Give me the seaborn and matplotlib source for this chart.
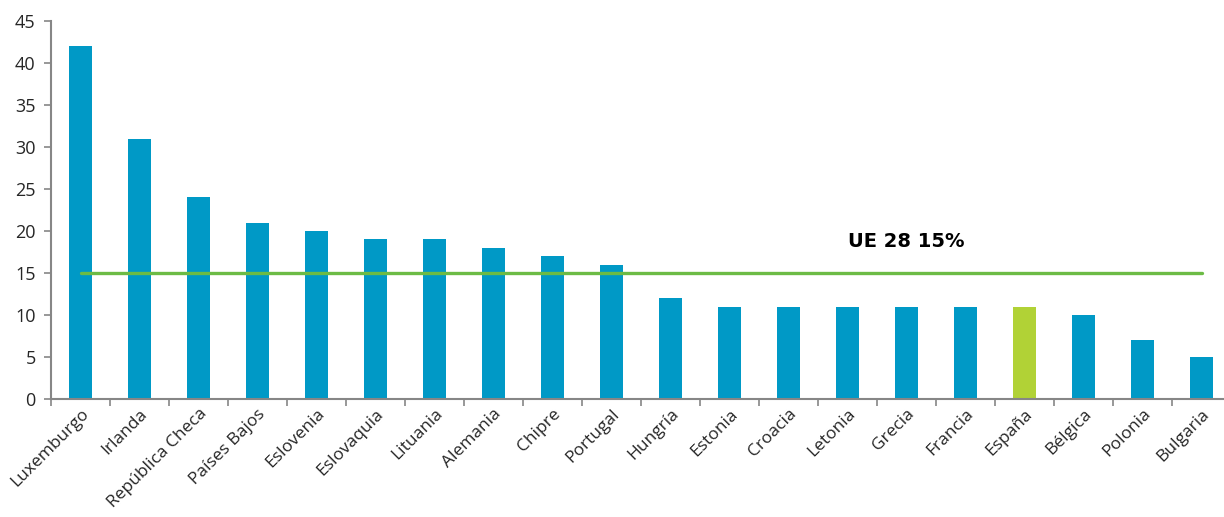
import matplotlib
matplotlib.use("Agg")
import matplotlib.pyplot as plt
import seaborn as sns
import pandas as pd
import numpy as np

# Data
paises = ["Luxemburgo", "Irlanda", "República Checa", "Países Bajos", "Eslovenia",
          "Eslovaquia", "Lituania", "Alemania", "Chipre", "Portugal", "Hungría",
          "Estonia", "Croacia", "Letonia", "Grecia", "Francia", "España", "Bélgica",
          "Polonia", "Bulgaria"]
valores = [42, 31, 24, 21, 20, 19, 19, 18, 17, 16, 12, 11, 11, 11, 11, 11, 11, 10, 7, 5]
media_ue = 15
etiqueta_ue = "UE 28 15%"

azul = "#0099C6"
verde_es = "#B1D236"
verde_linea = "#6CBB45"
gris = "#868686"

df = pd.DataFrame({"pais": paises, "valor": valores})
colores = {p: (verde_es if p == "España" else azul) for p in paises}

sns.set_style("white")
plt.rcParams["font.family"] = ["Open Sans", "DejaVu Sans"]

fig = plt.figure(figsize=(12.24, 5.17), dpi=100)
ax = fig.add_axes([51 / 1224, 118 / 517, 1180 / 1224, 378 / 517])

sns.barplot(data=df, x="pais", y="valor", hue="pais", palette=colores,
            width=0.4, legend=False, ax=ax, saturation=1, linewidth=0)

# EU average line across bar centres
ax.plot([0, len(paises) - 1], [media_ue, media_ue], color=verde_linea, lw=2.4,
        solid_capstyle="round", zorder=3)
ax.text(14, 18.7, etiqueta_ue, ha="center", va="center", fontsize=14,
        fontweight="bold", family="DejaVu Sans", color="black")

ax.set_xlim(-0.5, len(paises) - 0.5)
ax.set_ylim(0, 45)
ax.set_yticks(np.arange(0, 46, 5))
ax.set_xlabel("")
ax.set_ylabel("")

# tick marks between categories, labels under bars
ax.set_xticks(np.arange(-0.5, len(paises), 1), minor=True)
ax.tick_params(axis="x", which="major", length=0, pad=5, labelsize=12.5)
ax.tick_params(axis="x", which="minor", length=5, color=gris, width=1.2, bottom=True)
ax.tick_params(axis="y", length=5, color=gris, width=1.2, left=True, labelsize=13,
               pad=6)
for lab in ax.get_xticklabels():
    lab.set_rotation(45)
    lab.set_ha("right")
    lab.set_rotation_mode("anchor")

for s in ["top", "right"]:
    ax.spines[s].set_visible(False)
for s in ["left", "bottom"]:
    ax.spines[s].set_color(gris)
    ax.spines[s].set_linewidth(1.5)

fig.savefig("out.png", dpi=100)
